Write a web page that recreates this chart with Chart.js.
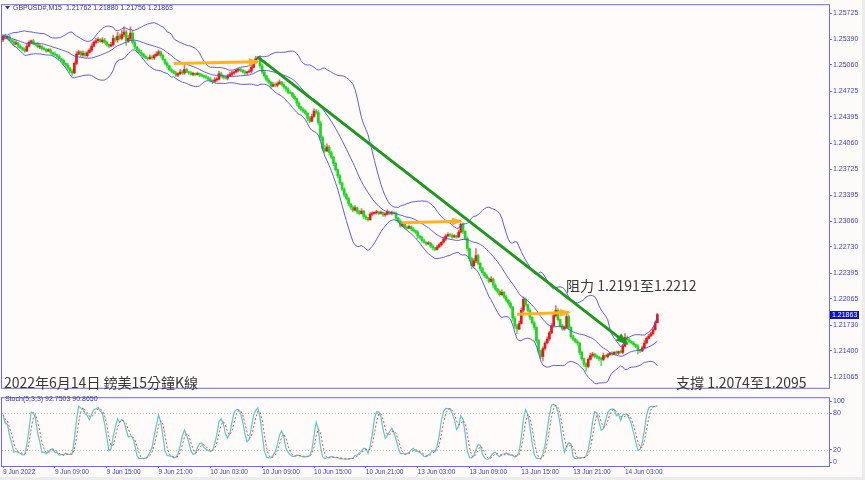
<!DOCTYPE html>
<html>
<head>
<meta charset="utf-8">
<script src="https://cdn.jsdelivr.net/npm/chart.js@4.4.1/dist/chart.umd.min.js"></script>
<style>
html, body { margin: 0; padding: 0; background: #ececec; }
#wrap { position: relative; width: 862px; height: 477px; background: #fdfafa; }
canvas { position: absolute; left: 0; }
</style>
</head>
<body>
<div id="wrap">
  <canvas id="main" width="865" height="393" style="top:0"></canvas>
  <canvas id="stoch" width="865" height="87" style="top:393px"></canvas>
</div>
<script>
// GBPUSD M15, 9 Jun 03:00 -> 14 Jun 06:45
const firstOpen = 1.2538;
const closes = [
  1.2543,1.2541,1.2542,1.2538,1.2536,1.2533,1.2534,1.2530,1.2528,1.2526,
  1.2524,1.2530,1.2535,1.2537,1.2533,1.2532,1.2529,1.2530,1.2527,1.2526,
  1.2524,1.2525,1.2522,1.2520,1.2519,1.2517,1.2514,1.2512,1.2508,1.2506,
  1.2502,1.2498,1.2496,1.2508,1.2520,1.2523,1.2519,1.2521,1.2518,1.2522,
  1.2525,1.2530,1.2535,1.2537,1.2539,1.2536,1.2538,1.2535,1.2532,1.2530,
  1.2532,1.2540,1.2538,1.2543,1.2540,1.2545,1.2548,1.2537,1.2540,1.2547,
  1.2535,1.2529,1.2525,1.2522,1.2520,1.2517,1.2515,1.2514,1.2516,1.2515,
  1.2518,1.2520,1.2523,1.2518,1.2513,1.2508,1.2505,1.2500,1.2498,1.2496,
  1.2493,1.2495,1.2497,1.2496,1.2500,1.2497,1.2496,1.2494,1.2495,1.2494,
  1.2495,1.2493,1.2492,1.2491,1.2490,1.2488,1.2486,1.2485,1.2487,1.2488,
  1.2495,1.2492,1.2490,1.2489,1.2492,1.2494,1.2496,1.2497,1.2499,1.2500,
  1.2499,1.2497,1.2496,1.2497,1.2498,1.2503,1.2510,1.2514,1.2515,1.2505,
  1.2497,1.2492,1.2487,1.2484,1.2479,1.2481,1.2480,1.2482,1.2484,1.2481,
  1.2478,1.2475,1.2471,1.2470,1.2466,1.2463,1.2457,1.2452,1.2449,1.2447,
  1.2444,1.2438,1.2434,1.2440,1.2447,1.2445,1.2432,1.2413,1.2399,1.2396,
  1.2401,1.2394,1.2388,1.2380,1.2372,1.2364,1.2355,1.2347,1.2340,1.2335,
  1.2328,1.2324,1.2320,1.2323,1.2318,1.2316,1.2319,1.2312,1.2310,1.2308,
  1.2315,1.2316,1.2317,1.2318,1.2316,1.2317,1.2314,1.2315,1.2318,1.2316,
  1.2317,1.2316,1.2310,1.2306,1.2300,1.2302,1.2298,1.2297,1.2299,1.2296,
  1.2294,1.2292,1.2287,1.2285,1.2281,1.2279,1.2277,1.2278,1.2274,1.2272,
  1.2270,1.2273,1.2276,1.2279,1.2283,1.2287,1.2289,1.2288,1.2286,1.2287,
  1.2286,1.2292,1.2302,1.2293,1.2284,1.2271,1.2258,1.2249,1.2255,1.2262,
  1.2252,1.2245,1.2240,1.2236,1.2233,1.2229,1.2232,1.2224,1.2219,1.2216,
  1.2212,1.2215,1.2209,1.2205,1.2201,1.2196,1.2182,1.2172,1.2168,1.2175,
  1.2192,1.2206,1.2199,1.2192,1.2183,1.2176,1.2170,1.2153,1.2140,1.2133,
  1.2143,1.2150,1.2155,1.2163,1.2172,1.2185,1.2192,1.2180,1.2172,1.2168,
  1.2170,1.2184,1.2170,1.2158,1.2155,1.2152,1.2150,1.2138,1.2130,1.2123,
  1.2120,1.2129,1.2134,1.2136,1.2133,1.2132,1.2130,1.2129,1.2134,1.2133,
  1.2135,1.2137,1.2136,1.2138,1.2137,1.2139,1.2138,1.2146,1.2157,1.2154,
  1.2152,1.2150,1.2148,1.2146,1.2141,1.2140,1.2144,1.2150,1.2156,1.2159,
  1.2162,1.2167,1.2176,1.21863
];
// wick lengths in pips above / below the body
const upWick = [
  2,3,1,2,1,2,3,1,2,1,2,3,2,1,2,1,3,2,1,2,
  1,2,2,1,3,1,2,1,2,1,2,1,2,2,3,2,1,3,2,2,
  2,3,2,3,2,1,3,2,2,1,3,4,2,5,3,5,7,3,4,8,
  3,2,1,2,3,1,2,1,3,2,2,3,2,1,2,1,2,1,2,1,
  2,1,3,2,9,2,1,2,2,1,2,1,2,1,2,1,2,1,3,2,
  3,2,1,2,2,3,2,1,2,2,2,1,2,1,2,3,2,3,2,3,
  2,2,1,2,1,3,2,2,3,1,2,1,2,2,1,2,1,2,1,2,
  2,1,2,3,3,2,3,2,2,4,4,2,2,1,2,1,2,1,2,2,
  2,1,2,3,1,2,3,1,2,1,2,2,1,2,1,2,1,2,3,1,
  2,1,2,1,2,3,1,2,2,1,2,1,2,1,2,2,1,2,1,2,
  1,2,2,1,3,2,2,1,2,2,1,2,2,2,1,2,1,2,3,9,
  2,1,2,1,2,1,3,1,2,1,2,3,1,2,1,2,1,2,2,3,
  3,3,2,1,2,1,2,1,2,1,2,2,3,2,3,2,6,2,1,2,
  2,3,2,1,2,1,2,1,2,1,2,2,3,2,1,2,1,2,3,1,
  2,1,2,1,2,1,2,2,5,2,2,1,2,1,2,1,2,3,2,2,
  2,3,2,1.7
];
const lowWick = [
  2,1,2,1,2,2,1,2,1,2,2,1,1,2,1,2,1,2,2,1,
  2,1,2,2,1,2,1,2,2,3,2,2,4,1,2,1,2,2,1,2,
  1,2,1,2,2,1,2,1,2,2,1,2,2,3,2,2,3,6,2,3,
  2,2,3,1,2,2,1,2,1,2,2,1,2,2,1,2,3,2,2,1,
  2,2,1,2,2,1,2,1,2,2,1,2,1,2,2,1,2,3,1,2,
  1,2,2,1,2,1,2,2,1,2,2,1,2,2,1,2,1,2,1,3,
  2,3,2,2,3,1,2,2,1,2,2,3,2,1,2,2,3,2,2,2,
  2,3,2,1,1,2,3,4,3,2,1,3,2,3,2,3,2,2,3,2,
  2,3,2,1,2,2,1,3,2,2,1,2,1,2,2,1,2,2,1,2,
  2,1,3,2,2,1,2,2,1,2,2,2,3,2,2,1,2,1,2,3,
  2,1,1,2,1,2,1,2,2,1,2,1,1,3,2,3,3,4,2,2,
  2,3,2,2,1,2,1,3,2,2,2,1,2,2,3,2,4,3,6,1,
  1,2,2,2,3,2,3,3,3,3,6,2,1,2,1,1,2,2,2,2,
  2,1,3,2,2,2,3,3,2,3,6,2,1,2,2,2,3,8,2,2,
  2,1,2,1,2,2,1,2,1,2,2,1,2,2,5,2,1,2,1,1,
  1,2,1,0.6
];

const priceTicks = [1.25725, 1.25390, 1.25060, 1.24725, 1.24395, 1.24060, 1.23725,
  1.23395, 1.23060, 1.22730, 1.22395, 1.22065, 1.21730, 1.21400, 1.21065];
const timeTickIdx = [0, 24, 48, 72, 96, 120, 144, 168, 192, 216, 240, 264, 288];
const timeTickText = ["9 Jun 2022", "9 Jun 09:00", "9 Jun 15:00", "9 Jun 21:00",
  "10 Jun 03:00", "10 Jun 09:00", "10 Jun 15:00", "10 Jun 21:00", "13 Jun 03:00",
  "13 Jun 09:00", "13 Jun 15:00", "13 Jun 21:00", "14 Jun 03:00"];
const stochTicks = [0, 20, 80, 100];
const stochLevels = [20, 80];

// drawn lines: [startBar, startPrice, endBar, endPrice]
const trendLine = [118, 1.2516, 289, 1.2149];
const orangeArrows = [
  [79, 1.2508, 118, 1.2510],
  [185, 1.2304, 212, 1.2306],
  [238, 1.2187, 262, 1.2189]
];

const headerText = "GBPUSD#,M15  1.21762 1.21880 1.21756 1.21863";
const stochText = "Stoch(5,3,3) 92.7503 90.8650";
const notes = [
  { text: "阻力 1.2191至1.2212", x: 566, y: 291 },
  { text: "支撐 1.2074至1.2095", x: 676, y: 388 },
  { text: "2022年6月14日 鎊美15分鐘K線", x: 4, y: 388 }
];

const SLOTS = 383;
const PIP = 0.0001;
const BB_PERIOD = 20, BB_DEV = 2.5;
const BULL = '#f01515', BEAR = '#1ad81a';
const AXIS = '#6b6be8', AXIS_TXT = '#4343c4';
const LATIN = "'Liberation Sans', Arial, sans-serif";
const CJK = "'Noto Sans CJK TC', 'Noto Sans CJK SC', sans-serif";

const labels = Array.from({ length: SLOTS }, (_, i) => String(i));
const opens = closes.map((c, i) => i === 0 ? firstOpen : closes[i - 1]);
const highs = closes.map((c, i) => Math.max(c, opens[i]) + upWick[i] * PIP);
const lows = closes.map((c, i) => Math.min(c, opens[i]) - lowWick[i] * PIP);
const colors = closes.map((c, i) => c >= opens[i] ? BULL : BEAR);

// Bollinger bands
const bbMid = [], bbUp = [], bbLow = [];
closes.forEach((c, i) => {
  const w = closes.slice(Math.max(0, i - BB_PERIOD + 1), i + 1);
  const m = w.reduce((a, b) => a + b, 0) / w.length;
  const sd = Math.sqrt(w.reduce((a, b) => a + (b - m) * (b - m), 0) / w.length);
  bbMid.push(m); bbUp.push(m + BB_DEV * sd); bbLow.push(m - BB_DEV * sd);
});

// Stochastic (5,3,3)
const num = [], den = [], stK = [], stD = [];
closes.forEach((c, i) => {
  const a = Math.max(0, i - 4);
  const hh = Math.max(...highs.slice(a, i + 1));
  const ll = Math.min(...lows.slice(a, i + 1));
  num.push(c - ll); den.push(hh - ll);
  const b = Math.max(0, i - 2);
  const sn = num.slice(b, i + 1).reduce((x, y) => x + y, 0);
  const sdn = den.slice(b, i + 1).reduce((x, y) => x + y, 0);
  stK.push(sdn > 0 ? 100 * sn / sdn : 50);
  const kw = stK.slice(b, i + 1);
  stD.push(kw.reduce((x, y) => x + y, 0) / kw.length);
});

function segment(s) {
  const d = new Array(SLOTS).fill(null);
  d[s[0]] = s[1]; d[s[2]] = s[3];
  return d;
}

function arrowHead(ctx, p0, p1, color, len, wid) {
  const ang = Math.atan2(p1.y - p0.y, p1.x - p0.x);
  ctx.save();
  ctx.translate(p1.x, p1.y);
  ctx.rotate(ang);
  ctx.beginPath();
  ctx.moveTo(2, 0);
  ctx.lineTo(-len, -wid / 2);
  ctx.lineTo(-len, wid / 2);
  ctx.closePath();
  ctx.fillStyle = color;
  ctx.fill();
  ctx.restore();
}

const mainDeco = {
  id: 'mainDeco',
  beforeDraw(chart) {
    const { ctx, chartArea: a } = chart;
    ctx.save();
    ctx.fillStyle = '#fffbfb';
    ctx.fillRect(a.left, a.top, a.right - a.left, a.bottom - a.top);
    ctx.restore();
  },
  afterDatasetsDraw(chart) {
    const ctx = chart.ctx;
    chart.data.datasets.forEach((ds, k) => {
      if (!ds.head) return;
      const pts = chart.getDatasetMeta(k).data;
      arrowHead(ctx, pts[ds.head.from], pts[ds.head.to], ds.borderColor, ds.head.len, ds.head.wid);
    });
  },
  afterDraw(chart) {
    const { ctx, chartArea: a } = chart;
    const y = chart.scales.y;
    ctx.save();
    ctx.strokeStyle = AXIS;
    ctx.lineWidth = 1;
    ctx.strokeRect(a.left - 0.5, a.top - 0.5, a.right - a.left + 1, a.bottom - a.top + 1);
    // header
    ctx.fillStyle = '#3535a8';
    ctx.beginPath();
    ctx.moveTo(5, 6); ctx.lineTo(10, 6); ctx.lineTo(7.5, 9.5); ctx.closePath(); ctx.fill();
    ctx.font = '7px ' + LATIN;
    ctx.textBaseline = 'alphabetic';
    ctx.fillText(headerText, 13, 10);
    // notes
    ctx.fillStyle = '#383838';
    ctx.font = '14px ' + CJK;
    notes.forEach(n => ctx.fillText(n.text, n.x, n.y));
    // last price tag
    const last = closes[closes.length - 1];
    const py = Math.round(y.getPixelForValue(last));
    ctx.fillStyle = '#1010c8';
    ctx.fillRect(a.right + 1, py - 4, 29, 8);
    ctx.fillStyle = '#ffffff';
    ctx.font = '7px ' + LATIN;
    ctx.textBaseline = 'middle';
    ctx.fillText(last.toFixed(5), a.right + 3, py + 0.5);
    ctx.restore();
  }
};

new Chart(document.getElementById('main'), {
  type: 'bar',
  data: {
    labels: labels,
    datasets: [
      {
        type: 'line', data: segment(trendLine), borderColor: '#1c9a1c', borderWidth: 3,
        pointRadius: 0, spanGaps: true, order: 1,
        head: { from: trendLine[0], to: trendLine[2], len: 11, wid: 9 }
      },
      ...orangeArrows.map(s => ({
        type: 'line', data: segment(s), borderColor: '#ffb21e', borderWidth: 3,
        pointRadius: 0, spanGaps: true, order: 2,
        head: { from: s[0], to: s[2], len: 9, wid: 8 }
      })),
      { type: 'line', data: bbUp, borderColor: 'rgba(75,75,235,0.9)', borderWidth: 1, pointRadius: 0, order: 3 },
      { type: 'line', data: bbMid, borderColor: 'rgba(75,75,235,0.9)', borderWidth: 1, pointRadius: 0, order: 3 },
      { type: 'line', data: bbLow, borderColor: 'rgba(75,75,235,0.9)', borderWidth: 1, pointRadius: 0, order: 3 },
      {
        data: closes.map((c, i) => [opens[i], c]), backgroundColor: colors,
        barThickness: 2, minBarLength: 1, grouped: false, order: 5
      },
      {
        data: closes.map((c, i) => [lows[i], highs[i]]),
        backgroundColor: colors.map(c => c === BULL ? 'rgba(240,60,60,0.75)' : 'rgba(40,215,40,0.75)'),
        barThickness: 1, grouped: false, order: 6
      }
    ]
  },
  options: {
    responsive: false,
    animation: false,
    devicePixelRatio: 1,
    layout: { padding: { left: 2, top: 2, bottom: 1, right: 0 } },
    plugins: { legend: { display: false }, tooltip: { enabled: false } },
    scales: {
      x: { display: false, offset: true },
      y: {
        position: 'right',
        min: 1.209268,
        max: 1.258255,
        afterFit: s => { s.width = 36; },
        afterBuildTicks: s => { s.ticks = priceTicks.map(v => ({ value: v })); },
        ticks: { callback: v => v.toFixed(5), color: AXIS_TXT, font: { size: 7, family: LATIN }, padding: 1 },
        grid: { drawOnChartArea: false, tickLength: 3, color: AXIS },
        border: { color: AXIS }
      }
    }
  },
  plugins: [mainDeco]
});

const stochDeco = {
  id: 'stochDeco',
  beforeDraw(chart) {
    const { ctx, chartArea: a } = chart;
    ctx.save();
    ctx.fillStyle = '#fffbfb';
    ctx.fillRect(a.left, a.top, a.right - a.left, a.bottom - a.top);
    ctx.restore();
  },
  beforeDatasetsDraw(chart) {
    const { ctx, chartArea: a } = chart;
    const y = chart.scales.y;
    ctx.save();
    ctx.strokeStyle = '#b9b9b9';
    ctx.setLineDash([1, 2]);
    stochLevels.forEach(v => {
      const py = Math.round(y.getPixelForValue(v)) + 0.5;
      ctx.beginPath(); ctx.moveTo(a.left, py); ctx.lineTo(a.right, py); ctx.stroke();
    });
    ctx.restore();
  },
  afterDraw(chart) {
    const { ctx, chartArea: a } = chart;
    ctx.save();
    ctx.strokeStyle = AXIS;
    ctx.lineWidth = 1;
    ctx.strokeRect(a.left - 0.5, a.top - 0.5, a.right - a.left + 1, a.bottom - a.top + 1);
    ctx.fillStyle = '#3535a8';
    ctx.font = '7px ' + LATIN;
    ctx.fillText(stochText, 5, 8);
    ctx.restore();
  }
};

new Chart(document.getElementById('stoch'), {
  type: 'line',
  data: {
    labels: labels,
    datasets: [
      { data: stD, borderColor: '#f04848', borderWidth: 1, borderDash: [2, 2], pointRadius: 0, order: 1 },
      { data: stK, borderColor: '#52cfc2', borderWidth: 1.2, pointRadius: 0, order: 2 }
    ]
  },
  options: {
    responsive: false,
    animation: false,
    devicePixelRatio: 1,
    layout: { padding: { left: 2, top: 1, bottom: 0, right: 0 } },
    plugins: { legend: { display: false }, tooltip: { enabled: false } },
    scales: {
      x: {
        offset: true,
        afterFit: s => { s.height = 14; },
        afterBuildTicks: s => { s.ticks = timeTickIdx.map(v => ({ value: v })); },
        ticks: {
          autoSkip: false, maxRotation: 0, align: 'start', padding: 0,
          callback: v => timeTickText[timeTickIdx.indexOf(v)],
          color: AXIS_TXT, font: { size: 6.5, family: LATIN }
        },
        grid: { drawOnChartArea: false, tickLength: 2, color: AXIS },
        border: { color: AXIS }
      },
      y: {
        position: 'right',
        min: -6.15,
        max: 104.6,
        afterFit: s => { s.width = 36; },
        afterBuildTicks: s => { s.ticks = stochTicks.map(v => ({ value: v })); },
        ticks: { color: AXIS_TXT, font: { size: 7, family: LATIN }, padding: 1 },
        grid: { drawOnChartArea: false, tickLength: 3, color: AXIS },
        border: { color: AXIS }
      }
    }
  },
  plugins: [stochDeco]
});
</script>
</body>
</html>
